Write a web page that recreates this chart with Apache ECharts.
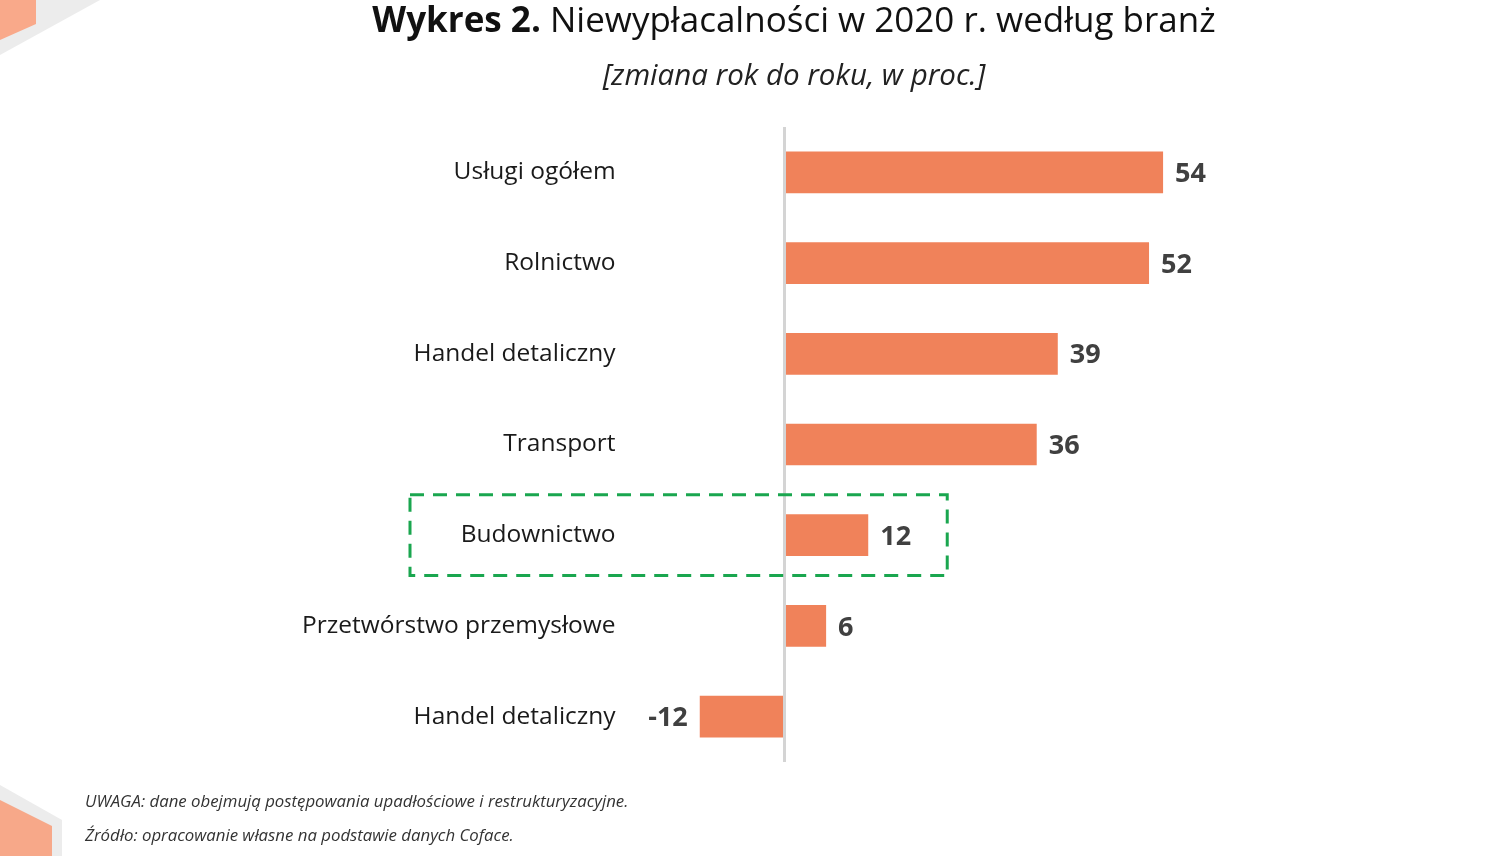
<!DOCTYPE html>
<html>
<head>
<meta charset="utf-8">
<script src="https://cdn.jsdelivr.net/npm/echarts@6/dist/echarts.min.js"></script>
<style>html,body{margin:0;padding:0;background:#fff;}#c{width:1500px;height:856px;}</style>
</head>
<body>
<div id="c"></div>
<script>
const categories = ['Usługi ogółem','Rolnictwo','Handel detaliczny','Transport','Budownictwo','Przetwórstwo przemysłowe','Handel detaliczny'];
const values = [54, 52, 39, 36, 12, 6, -12];
const titleBold = 'Wykres 2.';
const titleRest = ' Niewypłacalności w 2020 r. według branż';
const subtitle = '[zmiana rok do roku, w proc.]';
const note1 = 'UWAGA: dane obejmują postępowania upadłościowe i restrukturyzacyjne.';
const note2 = 'Źródło: opracowanie własne na podstawie danych Coface.';
const highlightIndex = 4;

const FONT = 'Open Sans';
const chart = echarts.init(document.getElementById('c'));

const seriesData = values.map(v => ({
  value: v,
  label: { position: v < 0 ? 'left' : 'right' }
}));

const decorations = [
  { type: 'polygon', shape: { points: [[0,0],[100,0],[0,55]] }, style: { fill: '#ececec' }, z: -1 },
  { type: 'polygon', shape: { points: [[0,0],[36,0],[36,24],[0,40]] }, style: { fill: '#f9a98a' }, z: 0 },
  { type: 'polygon', shape: { points: [[0,785],[62,820],[62,856],[0,856]] }, style: { fill: '#ececec' }, z: -1 },
  { type: 'polygon', shape: { points: [[0,800],[52,826],[52,856],[0,856]] }, style: { fill: '#f7a889' }, z: 0 }
];

chart.setOption({
  backgroundColor: '#ffffff',
  animation: false,
  title: [{
    text: '{b|' + titleBold + '}{r|' + titleRest + '}',
    left: 789, top: 0, textAlign: 'center',
    textStyle: { fontWeight: 'normal', rich: {
      b: { fontFamily: FONT, fontSize: 35, fontWeight: 'bold', color: '#111' },
      r: { fontFamily: FONT, fontSize: 35, fontWeight: 'normal', color: '#111' }
    }}
  }, {
    text: subtitle,
    left: 789, top: 57, textAlign: 'center',
    textStyle: { fontFamily: FONT, fontSize: 29.5, fontStyle: 'italic', fontWeight: 'normal', color: '#222' }
  }, {
    text: note1, left: 80, top: 789,
    textStyle: { fontFamily: FONT, fontSize: 16.8, fontStyle: 'italic', fontWeight: 'normal', color: '#333' }
  }, {
    text: note2, left: 80, top: 823,
    textStyle: { fontFamily: FONT, fontSize: 16.8, fontStyle: 'italic', fontWeight: 'normal', color: '#333' }
  }],
  grid: { left: 643.6, width: 561.6, top: 127, height: 635, containLabel: false },
  xAxis: {
    type: 'value', min: -20, max: 60, show: false
  },
  yAxis: {
    type: 'category', data: categories, inverse: true,
    axisLine: { show: false }, axisTick: { show: false }, splitLine: { show: false },
    axisLabel: { fontFamily: FONT, fontSize: 24.5, color: '#1a1a1a', margin: 28 }
  },
  series: [{
    type: 'bar',
    data: seriesData,
    barCategoryGap: '54%',
    itemStyle: { color: '#F0825A' },
    label: {
      show: true, distance: 12, offset: [0, 2],
      fontFamily: FONT, fontSize: 27, fontWeight: 'bold', color: '#404040'
    },
    markLine: {
      silent: true, symbol: 'none', label: { show: false },
      lineStyle: { color: '#d4d4d4', width: 3, type: 'solid' },
      data: [{ xAxis: 0 }]
    },
    z: 3
  }],
  graphic: decorations
});

// highlight box around the selected category, derived from the axes
const yc = chart.convertToPixel({ yAxisIndex: 0 }, highlightIndex);
const band = chart.getModel().getComponent('yAxis', 0).axis.getBandWidth();
const xr = chart.convertToPixel({ xAxisIndex: 0 }, values[highlightIndex]) + 79;
const xl = 410;
const h = band * 0.89;
chart.setOption({
  graphic: decorations.concat([
    { type: 'rect', shape: { x: xl, y: yc - h / 2, width: xr - xl, height: h },
      style: { fill: 'none', stroke: '#1aa64f', lineWidth: 3, lineDash: [14, 9] }, z: 10 }
  ])
});
</script>
</body>
</html>
